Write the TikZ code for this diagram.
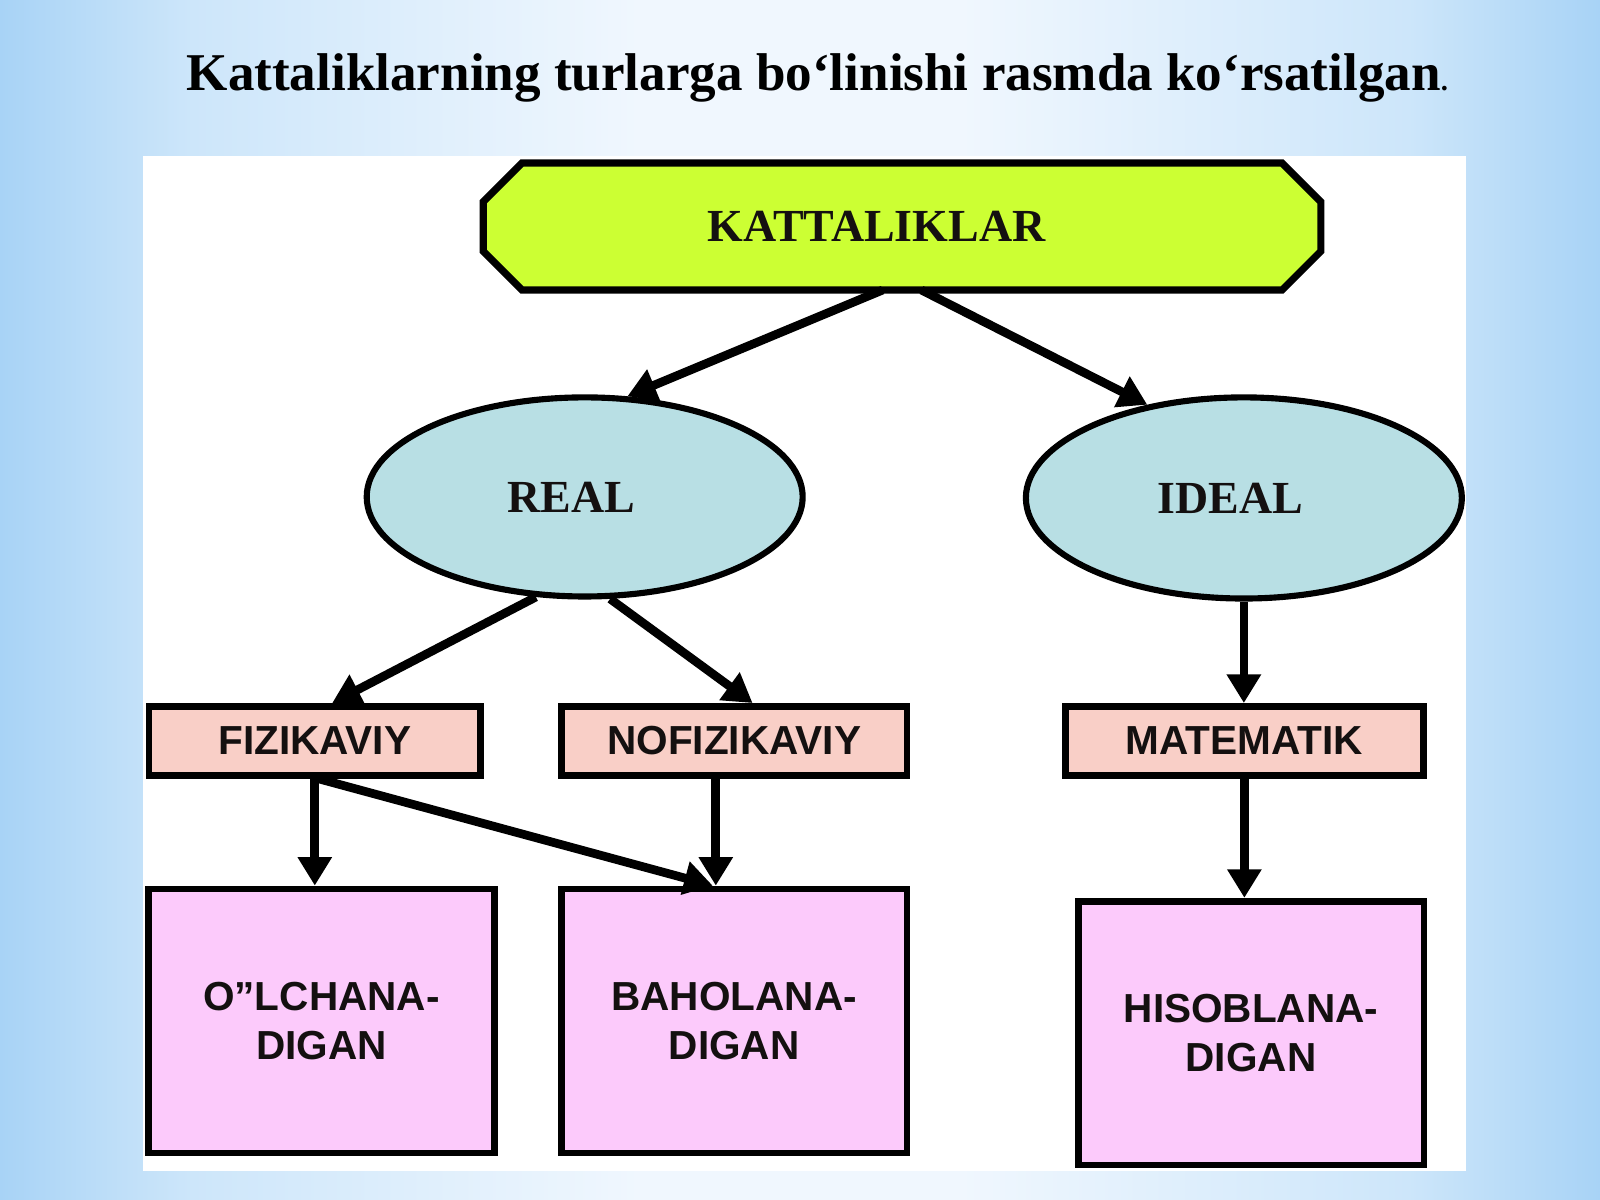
\documentclass[tikz,border=0pt]{standalone}
\usepackage{fontspec}
\setmainfont{Liberation Serif}
\setsansfont{Liberation Sans}
\usetikzlibrary{arrows.meta,shapes.geometric}
\definecolor{bgb}{HTML}{A8D3F6}
\definecolor{bgm}{HTML}{CDE6FA}
\definecolor{bgc}{HTML}{F0F7FE}
\definecolor{limebox}{HTML}{CCFF33}
\definecolor{ellfill}{HTML}{B8DFE4}
\definecolor{salmonbox}{HTML}{F9CFC7}
\definecolor{pinkbox}{HTML}{FCCAFB}
\definecolor{inkc}{HTML}{141010}
\pgfdeclarehorizontalshading{bgshade}{100bp}{color(0bp)=(bgb); color(25bp)=(bgb); color(31bp)=(bgm); color(45bp)=(bgc); color(55bp)=(bgc); color(69bp)=(bgm); color(75bp)=(bgb); color(100bp)=(bgb)}
\pgfdeclarelayer{back}
\pgfdeclarelayer{shapes}
\pgfsetlayers{back,shapes,main}
\begin{document}
\begin{tikzpicture}[x=0.01cm,y=-0.01cm,
  serlab/.style={font=\fontsize{12.8pt}{14pt}\selectfont\bfseries, text=inkc},
  ellnode/.style={ellipse, draw=black, line width=0.06cm, fill=ellfill, inner sep=0pt,
    minimum width=4.27cm, minimum height=1.95cm, serlab},
  sanslab/.style={font=\fontsize{11.3pt}{13.7pt}\selectfont\sffamily\bfseries, text=inkc, align=center},
  midbox/.style={rectangle, draw=black, line width=0.065cm, fill=salmonbox, inner sep=0pt,
    minimum height=0.675cm, sanslab},
  lowbox/.style={rectangle, draw=black, line width=0.065cm, fill=pinkbox, inner sep=0pt,
    minimum width=3.385cm, minimum height=2.585cm, sanslab},
  arr/.style={line width=0.085cm, draw=black, -{Triangle[length=0.28cm,width=0.32cm]}}
]
\useasboundingbox (0,0) rectangle (1568,1176);
\begin{pgfonlayer}{back}
  \shade[shading=bgshade] (0,0) rectangle (1568,1176);
  \fill[white] (140,153) rectangle (1437,1148);
\end{pgfonlayer}

\node (title) at (801,76) [font=\fontsize{14.8pt}{17pt}\selectfont\bfseries, text=black]
  {Kattaliklarning turlarga bo‘linishi rasmda ko‘rsatilgan{\fontsize{8pt}{8pt}\selectfont.}};

\node (k) at (884,222) [minimum width=8.19cm, minimum height=1.23cm, inner sep=0pt, serlab]
  {KATTALIKLAR\hspace*{0.5cm}};
\begin{pgfonlayer}{shapes}
  \draw[line width=0.07cm, fill=limebox, line join=miter]
    ([xshift=0.38cm]k.north west) -- ([xshift=-0.38cm]k.north east)
    -- ([yshift=-0.38cm]k.north east) -- ([yshift=0.38cm]k.south east)
    -- ([xshift=-0.38cm]k.south east) -- ([xshift=0.38cm]k.south west)
    -- ([yshift=0.38cm]k.south west) -- ([yshift=-0.38cm]k.north west) -- cycle;
\end{pgfonlayer}

\node (real) at (573,487) [ellnode] {REAL\hspace*{0.26cm}};
\node (ideal) at (1219,488) [ellnode, minimum height=1.97cm] {IDEAL\hspace*{0.26cm}};

\node (fiz) at (308.5,726) [midbox, minimum width=3.245cm] {FIZIKAVIY};
\node (nofiz) at (719.5,726) [midbox, minimum width=3.385cm] {NOFIZIKAVIY};
\node (mat) at (1219.5,726) [midbox, minimum width=3.505cm] {MATEMATIK};

\node (olch) at (315,1000.5) [lowbox] {O”LCHANA-\\DIGAN};
\node (baho) at (719.5,1000.5) [lowbox] {BAHOLANA-\\DIGAN};
\node (hiso) at (1226,1012.5) [lowbox] {HISOBLANA-\\DIGAN};

\draw[arr] ([xshift=-0.19cm]k.south) -- (real.67);
\draw[arr] ([xshift=0.19cm]k.south) -- (ideal.136);
\draw[arr] (real.-116) -- ([xshift=0.17cm]fiz.north);
\draw[arr] (real.-76) -- ([xshift=0.18cm]nofiz.north);
\draw[arr] (ideal.south) -- (ideal.south |- mat.north);
\draw[arr] (fiz.south) -- (fiz.south |- olch.north);
\draw[arr] ([xshift=0.03cm]fiz.south) -- ([xshift=-0.21cm]baho.north);
\draw[arr] ([xshift=-0.18cm]nofiz.south) -- ([xshift=-0.18cm]nofiz.south |- baho.north);
\draw[arr] (mat.south) -- (mat.south |- hiso.north);
\end{tikzpicture}
\end{document}
